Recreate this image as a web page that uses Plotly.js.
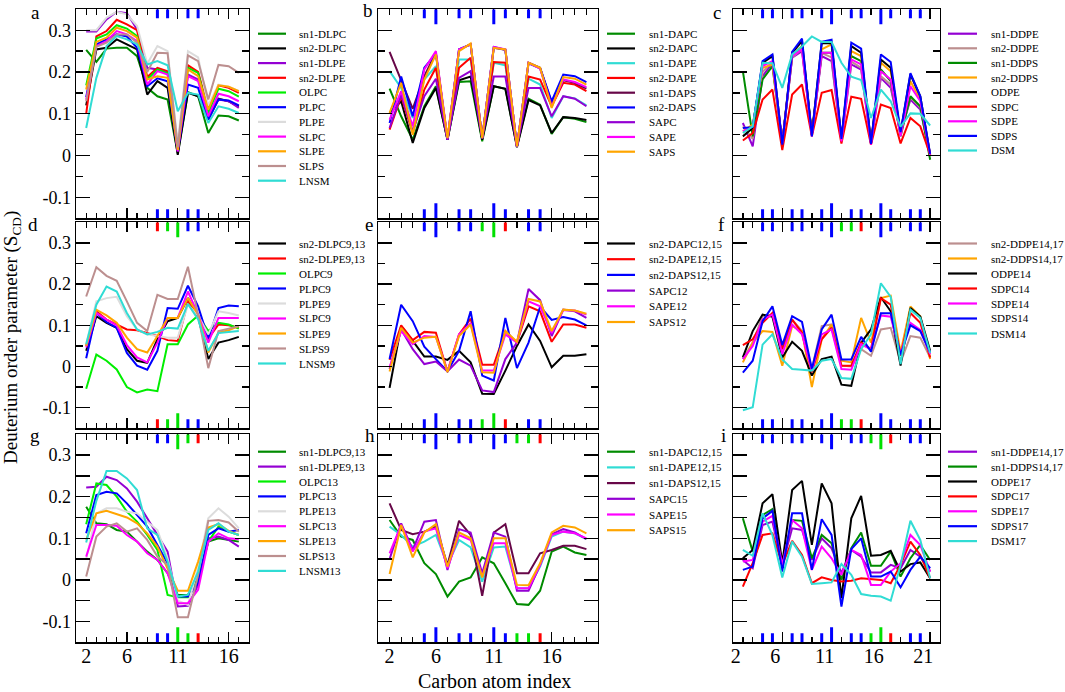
<!DOCTYPE html>
<html><head><meta charset="utf-8">
<script src="https://cdn.plot.ly/plotly-3.0.1.min.js"></script>
<style>html,body{margin:0;padding:0;background:#fff}#chart{width:1065px;height:692px}</style>
</head><body><div id="chart"></div>
<script>
// ---------------- DATA ----------------
// carbon index of first point in every series
const firstCarbon = 2;

// colours (xmgrace palette)
const GREEN4='#008b00', BLACK='#000000', VIOLET='#9400d3', RED='#ff0000', GREEN='#00ee00',
      BLUE='#0000ff', GREY='#dcdcdc', MAGENTA='#ff00ff', ORANGE='#ffa500', BROWN='#bc8f8f',
      TURQ='#30dcd4', MAROON='#670748';

// panel a
const namesA = ['sn1-DLPC','sn2-DLPC','sn1-DLPE','sn2-DLPE','OLPC','PLPC','PLPE','SLPC','SLPE','SLPS','LNSM'];
const colorsA = [GREEN4,BLACK,VIOLET,RED,GREEN,BLUE,GREY,MAGENTA,ORANGE,BROWN,TURQ];
const valsA = [
 [0.253,0.224,0.256,0.258,0.258,0.238,0.162,0.142,0.134,0.005,0.152,0.142,0.054,0.096,0.094,0.084],
 [0.12,0.254,0.258,0.278,0.266,0.254,0.146,0.178,0.162,0.002,0.15,0.142,0.086,0.136,0.13,0.118],
 [0.297,0.297,0.326,0.344,0.341,0.302,0.21,0.206,0.2,0.014,0.194,0.182,0.1,0.134,0.13,0.114],
 [0.1,0.285,0.298,0.325,0.314,0.3,0.188,0.21,0.202,0.01,0.216,0.2,0.11,0.168,0.162,0.15],
 [0.168,0.28,0.29,0.312,0.304,0.286,0.182,0.206,0.197,0.014,0.21,0.198,0.102,0.16,0.154,0.141],
 [0.14,0.266,0.278,0.29,0.285,0.258,0.166,0.185,0.178,0.01,0.17,0.162,0.086,0.134,0.132,0.12],
 [0.3,0.3,0.33,0.344,0.338,0.31,0.22,0.262,0.25,0.03,0.25,0.235,0.12,0.17,0.165,0.155],
 [0.134,0.262,0.274,0.298,0.29,0.274,0.17,0.202,0.194,0.01,0.19,0.178,0.094,0.148,0.142,0.13],
 [0.158,0.272,0.282,0.306,0.298,0.282,0.182,0.19,0.186,0.014,0.206,0.19,0.11,0.168,0.165,0.154],
 [0.13,0.26,0.27,0.29,0.29,0.27,0.2,0.246,0.245,0.02,0.24,0.226,0.134,0.217,0.214,0.198],
 [0.066,0.186,0.262,0.286,0.278,0.266,0.218,0.226,0.216,0.106,0.15,0.146,0.078,0.118,0.112,0.102]
];
// panel b
const namesB = ['sn1-DAPC','sn2-DAPC','sn1-DAPE','sn2-DAPE','sn1-DAPS','sn2-DAPS','SAPC','SAPE','SAPS'];
const colorsB = [GREEN4,BLACK,TURQ,RED,MAROON,BLUE,VIOLET,MAGENTA,ORANGE];
const valsB = [
 [0.16,0.094,0.038,0.118,0.166,0.038,0.176,0.178,0.034,0.166,0.16,0.022,0.136,0.122,0.052,0.092,0.088,0.08],
 [0.102,0.13,0.03,0.114,0.162,0.038,0.18,0.189,0.038,0.166,0.16,0.02,0.133,0.12,0.054,0.092,0.09,0.085],
 [0.202,0.162,0.09,0.182,0.214,0.038,0.23,0.23,0.042,0.222,0.216,0.022,0.184,0.17,0.09,0.142,0.137,0.12],
 [0.062,0.142,0.054,0.158,0.21,0.038,0.21,0.234,0.042,0.224,0.222,0.022,0.189,0.182,0.118,0.174,0.17,0.154],
 [0.248,0.182,0.112,0.19,0.246,0.038,0.254,0.266,0.042,0.258,0.253,0.022,0.222,0.21,0.126,0.18,0.174,0.16],
 [0.078,0.189,0.094,0.21,0.244,0.038,0.254,0.266,0.042,0.26,0.253,0.022,0.221,0.209,0.13,0.194,0.19,0.176],
 [0.066,0.146,0.058,0.142,0.184,0.038,0.186,0.202,0.042,0.189,0.189,0.022,0.162,0.162,0.094,0.142,0.136,0.118],
 [0.086,0.154,0.07,0.206,0.25,0.042,0.254,0.266,0.042,0.26,0.254,0.022,0.222,0.208,0.118,0.182,0.176,0.164],
 [0.102,0.174,0.05,0.182,0.242,0.042,0.25,0.268,0.042,0.258,0.254,0.022,0.222,0.21,0.114,0.188,0.184,0.17]
];
// panel c
const namesC = ['sn1-DDPE','sn2-DDPE','sn1-DDPS','sn2-DDPS','ODPE','SDPC','SDPE','SDPS','DSM'];
const colorsC = [VIOLET,BROWN,GREEN4,ORANGE,BLACK,RED,MAGENTA,BLUE,TURQ];
const valsC = [
 [0.078,0.022,0.19,0.222,0.03,0.234,0.25,0.05,0.238,0.226,0.034,0.218,0.206,0.03,0.186,0.162,0.054,0.134,0.11,0.002],
 [0.07,0.04,0.2,0.225,0.03,0.235,0.255,0.05,0.245,0.235,0.035,0.225,0.21,0.03,0.19,0.17,0.055,0.14,0.115,0.002],
 [0.202,0.046,0.182,0.214,0.03,0.238,0.262,0.05,0.246,0.246,0.038,0.238,0.226,0.03,0.206,0.178,0.046,0.142,0.118,-0.01],
 [0.058,0.074,0.21,0.218,0.03,0.242,0.262,0.05,0.254,0.266,0.038,0.25,0.238,0.03,0.222,0.202,0.05,0.178,0.134,0.002],
 [0.046,0.066,0.222,0.238,0.03,0.246,0.274,0.05,0.269,0.269,0.038,0.262,0.246,0.03,0.23,0.21,0.054,0.194,0.142,0.002],
 [0.036,0.054,0.134,0.158,0.013,0.146,0.17,0.046,0.15,0.157,0.029,0.141,0.136,0.026,0.122,0.114,0.029,0.09,0.07,0.002],
 [0.058,0.07,0.214,0.226,0.03,0.238,0.254,0.046,0.246,0.246,0.034,0.23,0.218,0.026,0.202,0.182,0.046,0.166,0.13,0.002],
 [0.066,0.068,0.226,0.242,0.026,0.248,0.28,0.046,0.272,0.277,0.04,0.27,0.256,0.028,0.242,0.224,0.056,0.197,0.142,0.004],
 [0.054,0.07,0.222,0.221,0.162,0.242,0.261,0.285,0.272,0.272,0.222,0.189,0.181,0.09,0.158,0.13,0.069,0.101,0.1,0.072]
];
// panel d
const namesD = ['sn2-DLPC9,13','sn2-DLPE9,13','OLPC9','PLPC9','PLPE9','SLPC9','SLPE9','SLPS9','LNSM9'];
const colorsD = [BLACK,RED,GREEN,BLUE,GREY,MAGENTA,ORANGE,BROWN,TURQ];
const valsD = [
 [0.038,0.122,0.106,0.094,0.042,0.014,0.009,0.066,0.11,0.118,0.166,0.122,0.018,0.058,0.064,0.072],
 [0.05,0.134,0.114,0.102,0.09,0.088,0.081,0.074,0.064,0.062,0.158,0.118,0.068,0.102,0.1,0.094],
 [-0.054,0.029,0.014,-0.007,-0.05,-0.063,-0.056,-0.06,0.054,0.054,0.102,0.124,0.086,0.106,0.102,0.092],
 [0.02,0.13,0.108,0.094,0.033,0.002,-0.008,0.038,0.142,0.14,0.196,0.146,0.068,0.142,0.148,0.146],
 [0.054,0.158,0.166,0.169,0.122,0.09,0.078,0.074,0.07,0.07,0.15,0.124,0.078,0.134,0.13,0.124],
 [0.046,0.13,0.114,0.1,0.052,0.022,0.01,0.058,0.118,0.118,0.182,0.126,0.058,0.118,0.118,0.118],
 [0.05,0.138,0.124,0.106,0.07,0.042,0.034,0.074,0.118,0.118,0.166,0.126,0.034,0.082,0.088,0.098],
 [0.17,0.241,0.22,0.208,0.158,0.106,0.086,0.174,0.164,0.164,0.242,0.124,-0.004,0.086,0.092,0.098],
 [0.054,0.15,0.194,0.182,0.13,0.09,0.078,0.084,0.094,0.092,0.152,0.114,0.038,0.081,0.084,0.086]
];
// panel e
const namesE = ['sn2-DAPC12,15','sn2-DAPE12,15','sn2-DAPS12,15','SAPC12','SAPE12','SAPS12'];
const colorsE = [BLACK,RED,BLUE,VIOLET,MAGENTA,ORANGE];
const valsE = [
 [-0.052,0.098,0.062,0.024,0.024,0.016,0.038,0.01,-0.066,-0.067,-0.01,0.05,0.102,0.062,-0.002,0.026,0.026,0.03],
 [0.016,0.1,0.064,0.084,0.082,-0.012,0.078,0.116,0.004,0.004,0.086,0.058,0.146,0.134,0.06,0.102,0.102,0.094],
 [0.018,0.15,0.11,0.048,0.018,-0.012,0.038,0.134,-0.022,-0.034,0.118,-0.004,0.058,0.145,0.113,0.12,0.114,0.1],
 [-0.006,0.09,0.042,0.006,0.012,-0.012,0.017,0.002,-0.058,-0.062,0.018,0.058,0.188,0.161,0.074,0.138,0.134,0.118],
 [-0.002,0.086,0.054,0.074,0.072,-0.012,0.078,0.105,-0.01,-0.01,0.078,0.058,0.158,0.146,0.081,0.137,0.136,0.126],
 [-0.012,0.094,0.058,0.07,0.072,-0.014,0.074,0.102,-0.014,-0.015,0.086,0.06,0.164,0.158,0.086,0.138,0.136,0.128]
];
// panel f
const namesF = ['sn2-DDPE14,17','sn2-DDPS14,17','ODPE14','SDPC14','SDPE14','SDPS14','DSM14'];
const colorsF = [BROWN,ORANGE,BLACK,RED,MAGENTA,BLUE,TURQ];
const valsF = [
 [0.018,0.058,0.122,0.126,0.042,0.114,0.086,-0.006,0.098,0.102,0.002,0.0,0.042,0.026,0.09,0.094,0.01,0.074,0.07,0.022],
 [0.01,0.058,0.086,0.084,0.002,0.098,0.086,-0.05,0.066,0.102,0.014,0.01,0.118,0.058,0.166,0.172,0.034,0.146,0.122,0.018],
 [0.022,0.086,0.126,0.121,0.022,0.06,0.038,-0.022,0.018,0.024,-0.044,-0.047,0.058,0.09,0.168,0.134,0.002,0.142,0.121,0.038],
 [0.052,0.066,0.106,0.13,0.042,0.114,0.082,-0.014,0.066,0.094,0.002,0.002,0.058,0.042,0.166,0.15,0.026,0.13,0.106,0.022],
 [0.018,0.05,0.114,0.126,0.03,0.102,0.078,-0.01,0.078,0.09,-0.006,-0.008,0.054,0.042,0.124,0.121,0.03,0.106,0.089,0.03],
 [-0.015,0.014,0.11,0.146,0.052,0.122,0.108,-0.006,0.09,0.126,0.017,0.017,0.072,0.036,0.129,0.129,0.028,0.1,0.086,0.034],
 [-0.106,-0.099,0.053,0.078,0.017,-0.006,-0.008,-0.01,0.014,0.018,-0.028,-0.03,0.042,0.078,0.202,0.169,0.006,0.138,0.118,0.033]
];
// panel g
const namesG = ['sn1-DLPC9,13','sn1-DLPE9,13','OLPC13','PLPC13','PLPE13','SLPC13','SLPE13','SLPS13','LNSM13'];
const colorsG = [GREEN4,VIOLET,GREEN,BLUE,GREY,MAGENTA,ORANGE,BROWN,TURQ];
const valsG = [
 [0.176,0.136,0.134,0.12,0.116,0.092,0.068,0.048,0.016,-0.036,-0.036,0.004,0.092,0.1,0.096,0.092],
 [0.222,0.224,0.248,0.24,0.22,0.188,0.148,0.108,0.068,-0.064,-0.062,-0.012,0.1,0.104,0.096,0.08],
 [0.134,0.232,0.228,0.2,0.164,0.14,0.108,0.072,-0.036,-0.042,-0.042,-0.004,0.092,0.128,0.116,0.108],
 [0.112,0.204,0.212,0.208,0.184,0.156,0.128,0.084,0.04,-0.04,-0.04,-0.008,0.108,0.124,0.116,0.12],
 [0.05,0.16,0.172,0.172,0.164,0.16,0.14,0.12,0.052,-0.05,-0.06,0.03,0.148,0.172,0.152,0.124],
 [0.056,0.132,0.132,0.13,0.108,0.092,0.064,0.048,0.016,-0.056,-0.056,-0.024,0.092,0.112,0.1,0.098],
 [0.096,0.16,0.166,0.158,0.15,0.136,0.112,0.08,0.028,-0.026,-0.026,0.044,0.126,0.134,0.118,0.108],
 [0.008,0.104,0.128,0.136,0.116,0.124,0.096,0.056,0.036,-0.09,-0.09,0.012,0.142,0.144,0.138,0.116],
 [0.09,0.19,0.262,0.262,0.244,0.216,0.124,0.108,0.044,-0.04,-0.036,0.02,0.12,0.136,0.116,0.108]
];
// panel h
const namesH = ['sn1-DAPC12,15','sn1-DAPE12,15','sn1-DAPS12,15','SAPC15','SAPE15','SAPS15'];
const colorsH = [GREEN4,TURQ,MAROON,VIOLET,MAGENTA,ORANGE];
const valsH = [
 [0.144,0.104,0.096,0.04,0.014,-0.04,-0.004,0.006,0.054,0.04,-0.008,-0.058,-0.06,-0.026,0.068,0.08,0.066,0.06],
 [0.128,0.108,0.08,0.092,0.108,0.036,0.096,0.078,-0.004,0.078,0.08,-0.02,-0.02,0.032,0.104,0.116,0.112,0.098],
 [0.184,0.12,0.11,0.116,0.128,0.036,0.142,0.108,-0.038,0.114,0.134,0.016,0.016,0.064,0.072,0.082,0.082,0.074],
 [0.05,0.136,0.072,0.14,0.144,0.024,0.122,0.114,0.016,0.114,0.104,-0.026,-0.026,0.036,0.11,0.122,0.114,0.098],
 [0.064,0.132,0.068,0.116,0.124,0.028,0.108,0.096,0.008,0.088,0.088,-0.02,-0.02,0.036,0.108,0.116,0.112,0.1],
 [0.014,0.132,0.054,0.114,0.134,0.032,0.114,0.1,0.006,0.1,0.1,-0.012,-0.013,0.04,0.114,0.13,0.126,0.112]
];
// panel i
const namesI = ['sn1-DDPE14,17','sn1-DDPS14,17','ODPE17','SDPC17','SDPE17','SDPS17','DSM17'];
const colorsI = [VIOLET,GREEN4,BLACK,RED,MAGENTA,BLUE,TURQ];
const valsI = [
 [0.048,0.028,0.132,0.14,0.036,0.124,0.12,0.048,0.1,0.076,0.016,0.072,0.056,0.018,0.018,0.036,0.028,0.072,0.056,0.02],
 [0.148,0.068,0.156,0.17,0.036,0.144,0.142,0.052,0.108,0.088,0.0,0.076,0.114,0.034,0.034,0.068,0.008,0.052,0.084,0.048],
 [0.052,0.072,0.184,0.206,0.04,0.216,0.238,0.084,0.232,0.184,-0.044,0.148,0.202,0.058,0.06,0.07,0.02,0.038,0.042,0.004],
 [-0.016,0.04,0.108,0.112,0.036,0.094,0.06,-0.008,0.006,0.0,-0.004,-0.002,0.004,0.002,0.0,-0.008,0.036,0.092,0.06,0.004],
 [0.044,0.048,0.14,0.154,0.036,0.144,0.124,0.024,0.08,0.052,0.012,0.072,0.06,-0.012,-0.012,0.02,0.04,0.108,0.084,0.02],
 [0.024,0.032,0.148,0.166,0.02,0.16,0.16,0.024,0.146,0.108,-0.064,0.074,0.1,0.008,0.008,0.02,-0.018,0.024,0.056,0.028],
 [0.072,0.058,0.16,0.108,0.006,0.092,0.056,-0.01,-0.008,-0.006,0.038,0.012,-0.034,-0.038,-0.04,-0.05,0.036,0.142,0.096,0.004]
];

// double-bond / substitution markers on the frame (carbon positions and colours)
const barsA = [9,10,12,13];                 const barColsA = ['b','b','b','b'];
const barsB = [5,6,8,9,11,12,14,15];         const barColsB = ['b','b','b','b','b','b','b','b'];
const barsC = [4,5,7,8,10,11,13,14,16,17,19,20]; const barColsC = ['b','b','b','b','b','b','b','b','b','b','b','b'];
const barsD = [9,10,11,12,13];               const barColsD = ['r','g','g','b','b'];
const barsE = [5,6,8,9,10,11,12,14,15];      const barColsE = ['b','b','b','b','g','g','r','b','b'];
const barsF = [4,5,7,8,10,11,12,13,14,16,17,19,20]; const barColsF = ['b','b','b','b','b','b','g','g','r','b','b','b','b'];
const barsG = [9,10,11,12,13];               const barColsG = ['b','b','g','g','r'];
const barsH = [5,6,8,9,11,12,13,14,15];      const barColsH = ['b','b','b','b','b','b','g','g','r'];
const barsI = [4,5,7,8,10,11,13,14,15,16,17,19,20]; const barColsI = ['b','b','b','b','b','b','b','b','g','g','r','b','b'];

// axis ticks
const yTickVals = [-0.1,0,0.1,0.2,0.3];
const yTickText = ['-0.1','0','0.1','0.2','0.3'];
const xLabelVals = [2,6,11,16,21];
const xMajorVals = [6,11,16,21];
const xMaxByPanel = [18,20,22,18,20,22,18,20,22];
const panelLetters = ['a','b','c','d','e','f','g','h','i'];

// ---------------- LAYOUT / RENDER ----------------
const FONT = '"Liberation Serif", "Times New Roman", serif';
const W = 1065, H = 692;
const barColor = {b:'#0000ff', g:'#00e000', r:'#ff0000'};
const colPx = [[76,249],[378,598],[733,940]];
const rowPx = [[9.3,218.3],[222.3,428.3],[434.3,642.3]];
const legLinePx = [[258,286,297],[607,635,647],[948,977,989]];
const legTopPx = [33.7,243.5,451.7];
const legStepPx = [14.7,14.75,14.6,15,15.7,15,14.9,15.7,14.9];
const letterPx = [[35,12],[368,11],[717,12],[33,224.5],[369,224.5],[721,224.5],[35,435.5],[370,435.5],[723,435.5]];
const YMIN = -0.15, YMAX = 0.35;

const panels = [
 [namesA,colorsA,valsA,barsA,barColsA],[namesB,colorsB,valsB,barsB,barColsB],[namesC,colorsC,valsC,barsC,barColsC],
 [namesD,colorsD,valsD,barsD,barColsD],[namesE,colorsE,valsE,barsE,barColsE],[namesF,colorsF,valsF,barsF,barColsF],
 [namesG,colorsG,valsG,barsG,barColsG],[namesH,colorsH,valsH,barsH,barColsH],[namesI,colorsI,valsI,barsI,barColsI]
];

const traces = [], shapes = [], annotations = [];
const layout = {
  width: W, height: H, margin:{l:0,r:0,t:0,b:0}, paper_bgcolor:'#fff', plot_bgcolor:'#fff',
  showlegend:false, font:{family:FONT, color:'#000'}
};
const px2x = p => p / W, px2y = p => 1 - p / H;

panels.forEach((p, k) => {
  const [names, colors, vals, bars, barCols] = p;
  const row = Math.floor(k/3), col = k % 3;
  const xs = k === 0 ? 'x' : 'x'+(k+1), ys = k === 0 ? 'y' : 'y'+(k+1);
  const xmax = xMaxByPanel[k];
  // series
  vals.forEach((v, j) => {
    traces.push({type:'scatter', mode:'lines', name:names[j],
      x: v.map((_, i) => firstCarbon + i), y: v, xaxis: xs, yaxis: ys,
      line:{color:colors[j], width:2}, hoverinfo:'skip', showlegend:false});
  });
  // axes
  const xDom = [px2x(colPx[col][0]), px2x(colPx[col][1])];
  const yDom = [px2y(rowPx[row][1]), px2y(rowPx[row][0])];
  layout[k===0?'xaxis':'xaxis'+(k+1)] = {
    domain:xDom, anchor:ys, range:[1,xmax], showline:true, mirror:'allticks', linecolor:'#000', linewidth:1.4,
    ticks:'inside', ticklen:10, tickwidth:1.3, tickcolor:'#000', tickmode:'array',
    tickvals: xMajorVals.filter(v => v < xmax), showticklabels:false, showgrid:false, zeroline:false,
    minor:{ticks:'inside', tick0:0, dtick:1, ticklen:5.5, tickwidth:1.3, tickcolor:'#000', showgrid:false}
  };
  layout[k===0?'yaxis':'yaxis'+(k+1)] = {
    domain:yDom, anchor:xs, range:[YMIN,YMAX], showline:true, mirror:'allticks', linecolor:'#000', linewidth:1.4,
    ticks:'inside', ticklen:14, tickwidth:1.3, tickcolor:'#000', tickmode:'array',
    tickvals:yTickVals, ticktext:yTickText, showticklabels: col===0,
    tickfont:{family:FONT, size:18, color:'#000'}, showgrid:false, zeroline:false,
    minor:{ticks:'inside', tick0:0, dtick:0.05, ticklen:7, tickwidth:1.3, tickcolor:'#000', showgrid:false}
  };
  // label-only axis for the bottom row
  if (row === 2) {
    const lid = 10 + col;
    const lv = xLabelVals.filter(v => v < xmax);
    layout['xaxis'+lid] = {
      overlaying: xs, anchor: ys, range:[1,xmax], showline:false, ticks:'', showgrid:false, zeroline:false,
      tickmode:'array', tickvals: lv, ticktext: lv.map(String),
      tickfont:{family:FONT, size:20, color:'#000'}, ticklabelshift: col===2 ? -7 : 0, side:'bottom'
    };
    traces.push({type:'scatter', mode:'lines', x:[], y:[], xaxis:'x'+lid, yaxis:ys, showlegend:false, hoverinfo:'skip'});
  }
  // frame markers
  bars.forEach((c, j) => {
    const len = ((c - 1) % 5 === 0) ? 15 : 9;
    const color = barColor[barCols[j]];
    shapes.push({type:'line', xref:xs, yref:ys, x0:c, x1:c, ysizemode:'pixel', yanchor:YMAX, y0:0, y1:-len,
      line:{color, width:3}});
    shapes.push({type:'line', xref:xs, yref:ys, x0:c, x1:c, ysizemode:'pixel', yanchor:YMIN, y0:0, y1:len,
      line:{color, width:3}});
  });
  // legend
  const [lx0, lx1, tx] = legLinePx[col];
  names.forEach((nm, j) => {
    const yy = px2y(legTopPx[row] + j * legStepPx[k]);
    shapes.push({type:'line', xref:'paper', yref:'paper', x0:px2x(lx0), x1:px2x(lx1), y0:yy, y1:yy,
      line:{color:colors[j], width:2.2}});
    annotations.push({xref:'paper', yref:'paper', x:px2x(tx), y:yy, xanchor:'left', yanchor:'middle',
      text:nm, showarrow:false, font:{family:FONT, size:11, color:'#000'}});
  });
  // panel letter
  annotations.push({xref:'paper', yref:'paper', x:px2x(letterPx[k][0]), y:px2y(letterPx[k][1]),
    xanchor:'center', yanchor:'middle', text:panelLetters[k], showarrow:false, font:{family:FONT, size:19, color:'#000'}});
});

// axis titles
annotations.push({xref:'paper', yref:'paper', x:px2x(12), y:px2y(338), xanchor:'center', yanchor:'middle',
  textangle:-90, showarrow:false, text:'Deuterium order parameter (S<sub>CD</sub>)', font:{family:FONT, size:19, color:'#000'}});
annotations.push({xref:'paper', yref:'paper', x:px2x(494), y:px2y(681), xanchor:'center', yanchor:'middle',
  showarrow:false, text:'Carbon atom index', font:{family:FONT, size:20, color:'#000'}});

layout.shapes = shapes;
layout.annotations = annotations;
Plotly.newPlot('chart', traces, layout, {staticPlot:true, displayModeBar:false});
</script></body></html>
